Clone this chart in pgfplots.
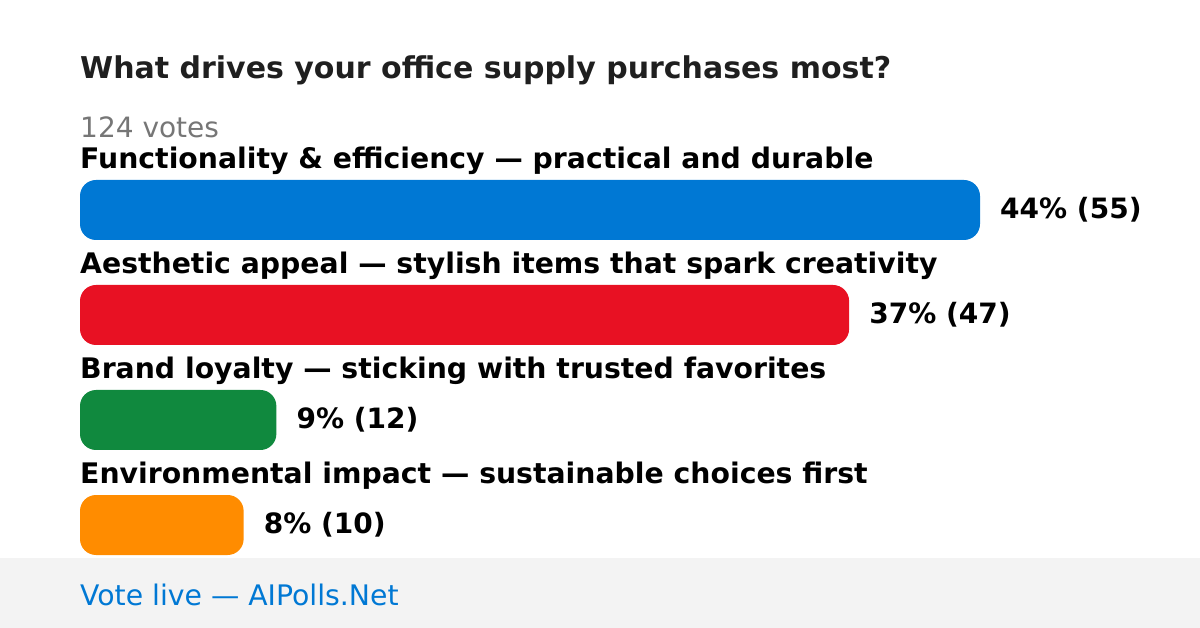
\documentclass[border=0pt]{standalone}
\usepackage{fontspec}
\setmainfont{DejaVu Sans}
\usepackage{pgfplots}
\pgfplotsset{compat=1.18}
\definecolor{cblue}{HTML}{0078D4}
\definecolor{cred}{HTML}{E81123}
\definecolor{cgreen}{HTML}{10893E}
\definecolor{corange}{HTML}{FF8C00}
\definecolor{ctitle}{HTML}{1F1F1F}
\definecolor{cgray}{HTML}{767676}
\definecolor{cfoot}{HTML}{F3F3F3}
\begin{document}
\begin{tikzpicture}
\begin{axis}[
  at={(0,0)}, anchor=south west,
  scale only axis, width=1200pt, height=628pt,
  xmin=-4.888889, xmax=68.444444,
  ymin=-2, ymax=3.980952, y dir=reverse,
  hide axis, clip=false,
  xbar, bar width=60pt, bar shift=0pt,
  point meta=explicit symbolic,
  nodes near coords,
  every node near coord/.style={anchor=west, xshift=20pt, inner sep=0pt, font=\fontsize{28}{32}\selectfont\bfseries, text=black},
]
\fill[cfoot] (axis cs:-4.888889,3.314286) rectangle (axis cs:68.444444,3.980952);
\addplot[fill=cblue, draw=none, rounded corners=16pt] coordinates {(55,0) [44\% (55)]};
\addplot[fill=cred, draw=none, rounded corners=16pt] coordinates {(47,1) [37\% (47)]};
\addplot[fill=cgreen, draw=none, rounded corners=16pt] coordinates {(12,2) [9\% (12)]};
\addplot[fill=corange, draw=none, rounded corners=16pt] coordinates {(10,3) [8\% (10)]};
\node[anchor=west, inner sep=0pt, text=ctitle, font=\fontsize{30}{34}\selectfont\bfseries] at (axis cs:0,-1.333) {What drives your office supply purchases most?};
\node[anchor=west, inner sep=0pt, text=cgray, font=\fontsize{28}{32}\selectfont] at (axis cs:0,-0.79) {124 votes};
\node[anchor=west, inner sep=0pt, text=black, font=\fontsize{28.3}{32}\selectfont\bfseries] at (axis cs:0,-0.467) {Functionality \& efficiency — practical and durable};
\node[anchor=west, inner sep=0pt, text=black, font=\fontsize{28.3}{32}\selectfont\bfseries] at (axis cs:0,0.533) {Aesthetic appeal — stylish items that spark creativity};
\node[anchor=west, inner sep=0pt, text=black, font=\fontsize{28.3}{32}\selectfont\bfseries] at (axis cs:0,1.533) {Brand loyalty — sticking with trusted favorites};
\node[anchor=west, inner sep=0pt, text=black, font=\fontsize{28.3}{32}\selectfont\bfseries] at (axis cs:0,2.533) {Environmental impact — sustainable choices first};
\node[anchor=west, inner sep=0pt, text=cblue, font=\fontsize{28.3}{32}\selectfont] at (axis cs:0,3.666667) {Vote live — AIPolls.Net};
\end{axis}
\pgfresetboundingbox
\path (0,0) rectangle (1200pt,628pt);
\end{tikzpicture}
\end{document}
